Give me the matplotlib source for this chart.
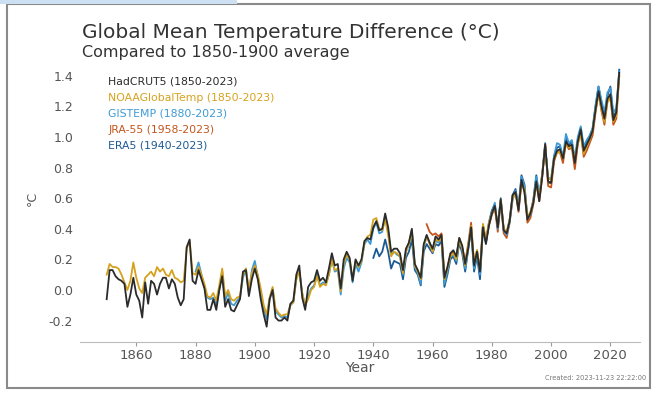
import matplotlib
matplotlib.use('Agg')
import matplotlib.pyplot as plt
from matplotlib.patches import Rectangle
import numpy as np

# anomalies relative to 1850-1900 (degC)
hadcrut_years = list(range(1850, 2024))
hadcrut = [
	-0.06, 0.13, 0.13, 0.09, 0.07, 0.06, 0.04, -0.11, -0.03, 0.08,
	-0.03, -0.07, -0.18, 0.05, -0.09, 0.06, 0.04, -0.03, 0.04, 0.08,
	0.08, 0.01, 0.07, 0.04, -0.05, -0.10, -0.06, 0.28, 0.33, 0.06,
	0.04, 0.13, 0.07, 0.01, -0.13, -0.13, -0.06, -0.13, 0.00, 0.09,
	-0.11, -0.06, -0.13, -0.14, -0.10, -0.06, 0.12, 0.13, -0.04, 0.07,
	0.14, 0.07, -0.06, -0.16, -0.24, -0.06, 0.00, -0.18, -0.20, -0.20,
	-0.18, -0.20, -0.09, -0.07, 0.10, 0.16, -0.05, -0.13, 0.02, 0.05,
	0.06, 0.13, 0.06, 0.08, 0.05, 0.14, 0.24, 0.16, 0.17, 0.01,
	0.20, 0.25, 0.21, 0.06, 0.20, 0.16, 0.20, 0.32, 0.34, 0.33,
	0.41, 0.45, 0.39, 0.40, 0.50, 0.41, 0.25, 0.27, 0.27, 0.24,
	0.13, 0.27, 0.31, 0.40, 0.17, 0.13, 0.08, 0.30, 0.36, 0.31,
	0.27, 0.35, 0.33, 0.36, 0.08, 0.15, 0.24, 0.26, 0.22, 0.34,
	0.29, 0.17, 0.27, 0.41, 0.16, 0.25, 0.12, 0.41, 0.30, 0.42,
	0.50, 0.55, 0.41, 0.59, 0.39, 0.37, 0.45, 0.62, 0.64, 0.52,
	0.72, 0.64, 0.46, 0.50, 0.57, 0.71, 0.58, 0.74, 0.95, 0.71,
	0.70, 0.86, 0.91, 0.92, 0.86, 0.97, 0.94, 0.95, 0.83, 0.97,
	1.05, 0.91, 0.95, 0.99, 1.04, 1.18, 1.30, 1.20, 1.12, 1.25,
	1.28, 1.11, 1.16, 1.42,
]

noaa_years = list(range(1850, 2024))
noaa = [
	0.10, 0.17, 0.15, 0.15, 0.14, 0.10, 0.05, 0.00, 0.06, 0.18,
	0.08, 0.01, -0.02, 0.08, 0.10, 0.12, 0.09, 0.15, 0.12, 0.14,
	0.10, 0.09, 0.13, 0.08, 0.07, 0.05, 0.06, 0.27, 0.32, 0.11,
	0.10, 0.15, 0.10, 0.04, -0.04, -0.05, -0.02, -0.07, 0.03, 0.14,
	-0.04, 0.00, -0.06, -0.07, -0.05, -0.04, 0.10, 0.14, 0.00, 0.11,
	0.16, 0.10, 0.01, -0.10, -0.16, -0.05, 0.02, -0.12, -0.15, -0.17,
	-0.16, -0.16, -0.10, -0.08, 0.07, 0.12, -0.02, -0.10, -0.06, 0.00,
	0.02, 0.09, 0.02, 0.04, 0.03, 0.10, 0.20, 0.13, 0.14, -0.01,
	0.17, 0.23, 0.20, 0.07, 0.19, 0.15, 0.19, 0.31, 0.35, 0.36,
	0.46, 0.47, 0.40, 0.39, 0.46, 0.36, 0.22, 0.25, 0.24, 0.22,
	0.11, 0.25, 0.30, 0.38, 0.16, 0.12, 0.07, 0.29, 0.35, 0.30,
	0.25, 0.33, 0.32, 0.34, 0.07, 0.14, 0.22, 0.24, 0.20, 0.33,
	0.27, 0.16, 0.29, 0.42, 0.17, 0.26, 0.13, 0.43, 0.33, 0.44,
	0.50, 0.54, 0.42, 0.59, 0.40, 0.38, 0.46, 0.60, 0.63, 0.54,
	0.70, 0.66, 0.48, 0.51, 0.58, 0.70, 0.60, 0.76, 0.93, 0.73,
	0.72, 0.86, 0.90, 0.90, 0.86, 0.96, 0.93, 0.94, 0.85, 0.96,
	1.02, 0.89, 0.94, 0.98, 1.04, 1.18, 1.28, 1.18, 1.10, 1.23,
	1.25, 1.10, 1.14, 1.40,
]

gistemp_years = list(range(1880, 2024))
gistemp = [
	0.12, 0.18, 0.10, 0.02, -0.05, -0.06, -0.05, -0.10, 0.00, 0.12,
	-0.07, -0.02, -0.09, -0.10, -0.07, -0.05, 0.08, 0.14, -0.02, 0.13,
	0.19, 0.09, -0.01, -0.12, -0.19, -0.06, 0.01, -0.14, -0.16, -0.18,
	-0.17, -0.18, -0.10, -0.08, 0.07, 0.13, -0.02, -0.11, -0.04, 0.01,
	0.03, 0.10, 0.03, 0.05, 0.04, 0.10, 0.20, 0.12, 0.13, -0.03,
	0.14, 0.21, 0.18, 0.05, 0.17, 0.12, 0.18, 0.30, 0.33, 0.30,
	0.40, 0.44, 0.37, 0.38, 0.48, 0.38, 0.23, 0.25, 0.23, 0.22,
	0.10, 0.25, 0.30, 0.39, 0.15, 0.11, 0.04, 0.28, 0.35, 0.31,
	0.25, 0.32, 0.31, 0.34, 0.04, 0.12, 0.22, 0.23, 0.19, 0.33,
	0.27, 0.14, 0.26, 0.40, 0.14, 0.23, 0.10, 0.42, 0.31, 0.43,
	0.51, 0.57, 0.40, 0.58, 0.39, 0.36, 0.44, 0.59, 0.65, 0.53,
	0.74, 0.68, 0.47, 0.49, 0.58, 0.74, 0.62, 0.75, 0.93, 0.73,
	0.73, 0.88, 0.96, 0.95, 0.87, 1.02, 0.96, 0.98, 0.86, 1.00,
	1.07, 0.94, 0.98, 1.01, 1.06, 1.21, 1.33, 1.24, 1.16, 1.29,
	1.32, 1.16, 1.19, 1.43,
]

jra55_years = list(range(1958, 2024))
jra55 = [
	0.43, 0.38,
	0.36, 0.37, 0.35, 0.37, 0.10, 0.14, 0.22, 0.25, 0.21, 0.34,
	0.28, 0.18, 0.30, 0.44, 0.17, 0.26, 0.12, 0.43, 0.32, 0.42,
	0.49, 0.54, 0.38, 0.58, 0.37, 0.34, 0.44, 0.60, 0.64, 0.51,
	0.70, 0.65, 0.44, 0.47, 0.56, 0.70, 0.58, 0.74, 0.95, 0.68,
	0.67, 0.84, 0.90, 0.90, 0.83, 0.96, 0.92, 0.93, 0.79, 0.95,
	1.03, 0.87, 0.91, 0.96, 1.01, 1.16, 1.29, 1.17, 1.08, 1.23,
	1.26, 1.08, 1.12, 1.40,
]

era5_years = list(range(1940, 2024))
era5 = [
	0.21, 0.27, 0.22, 0.25, 0.33, 0.25, 0.14, 0.19, 0.18, 0.17,
	0.07, 0.21, 0.25, 0.33, 0.13, 0.10, 0.03, 0.25, 0.30, 0.27,
	0.24, 0.30, 0.29, 0.32, 0.02, 0.10, 0.20, 0.22, 0.17, 0.31,
	0.24, 0.12, 0.27, 0.39, 0.12, 0.22, 0.07, 0.40, 0.31, 0.44,
	0.52, 0.56, 0.41, 0.60, 0.40, 0.37, 0.46, 0.62, 0.66, 0.54,
	0.75, 0.69, 0.47, 0.50, 0.59, 0.75, 0.61, 0.76, 0.96, 0.70,
	0.70, 0.87, 0.93, 0.94, 0.85, 0.99, 0.95, 0.97, 0.84, 0.98,
	1.06, 0.92, 0.96, 1.00, 1.05, 1.20, 1.33, 1.22, 1.13, 1.27,
	1.33, 1.13, 1.17, 1.44,
]

series_labels = ['HadCRUT5 (1850-2023)', 'NOAAGlobalTemp (1850-2023)',
	'GISTEMP (1880-2023)', 'JRA-55 (1958-2023)', 'ERA5 (1940-2023)']
x_ticks = [1860, 1880, 1900, 1920, 1940, 1960, 1980, 2000, 2020]
y_ticks = [-0.2, 0.0, 0.2, 0.4, 0.6, 0.8, 1.0, 1.2, 1.4]

colors = ['#2b2b2b', '#d6a21e', '#3d9ad6', '#c4561c', '#1c5a94']

fig = plt.figure(figsize=(6.56, 3.94), dpi=100)
ax = fig.add_axes([80/656, 52/394, 560/656, 281.5/394])

# visualization (black drawn last so it sits on top)
ax.plot(era5_years, era5, c=colors[4], lw=1.3, zorder=2)
ax.plot(jra55_years, jra55, c=colors[3], lw=1.3, zorder=3)
ax.plot(gistemp_years, gistemp, c=colors[2], lw=1.3, zorder=4)
ax.plot(noaa_years, noaa, c=colors[1], lw=1.3, zorder=5)
ax.plot(hadcrut_years, hadcrut, c=colors[0], lw=1.3, zorder=6)

ax.set_xlim([1841, 2030])
ax.set_ylim([-0.34, 1.5])
ax.set_xticks(x_ticks)
ax.set_yticks(y_ticks)
ax.set_yticklabels([f'{v:.1f}' for v in y_ticks])
ax.tick_params(axis='x', length=3, color='#999999', labelsize=9.5, labelcolor='#555555', pad=2)
ax.tick_params(axis='y', length=0, labelsize=9, labelcolor='#555555', pad=5)
for s in ['top', 'right', 'left']:
	ax.spines[s].set_visible(False)
ax.spines['bottom'].set_color('#bbbbbb')
ax.set_xlabel('Year', fontsize=10, color='#555555', labelpad=-1)
ax.set_ylabel('°C', fontsize=9, color='#555555')
ax.yaxis.set_label_coords(-0.074, 0.51)

fig.text(82/656, 1 - 32/394, 'Global Mean Temperature Difference (°C)',
	fontsize=14.5, color='#333333', va='center')
fig.text(82/656, 1 - 52/394, 'Compared to 1850-1900 average',
	fontsize=11.5, color='#333333', va='center')

for i, lab in enumerate(series_labels):
	fig.text(108/656, 1 - (82 + 16*i)/394, lab, fontsize=7.8, color=colors[i], va='center')

fig.text(646/656, 1 - 378/394, 'Created: 2023-11-23 22:22:00', fontsize=4.8,
	color='#777777', ha='right', va='center')

# page frame
fig.patches.append(Rectangle((7/656, 6/394), 643/656, 384/394, transform=fig.transFigure,
	fill=False, edgecolor='#8a8a8a', linewidth=1.5))
fig.patches.append(Rectangle((0, 1 - 4/394), 237/656, 4/394, transform=fig.transFigure,
	facecolor='#cddff2', edgecolor='none'))

fig.savefig('out.png', dpi=100)
